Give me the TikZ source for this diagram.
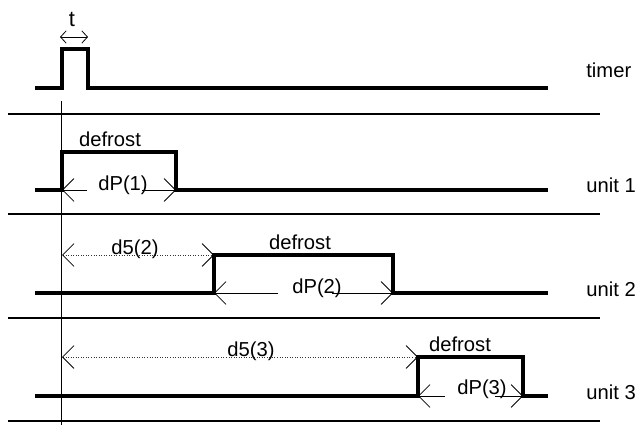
\documentclass[tikz,border=0pt]{standalone}
\usepackage{fontspec}
\setmainfont{Liberation Sans}
\usetikzlibrary{arrows.meta}

\tikzset{
  signal/.style={line width=2.3pt},
  sepline/.style={line width=1.1pt},
  barb/.tip={Straight Barb[length=6.5pt,width=13pt,line width=0.45pt,color=black]},
  smallbarb/.tip={Straight Barb[length=3.2pt,width=7pt,line width=0.45pt]},
  dimboth/.style={line width=0.45pt,smallbarb-smallbarb},
  dimleft/.style={line width=0.45pt,barb-},
  dimright/.style={line width=0.45pt,-barb},
  waitdim/.style={line width=0.45pt,densely dotted,black!80,barb-barb},
  lbl/.style={inner sep=0pt},
}

\begin{document}
\begin{tikzpicture}[x=0.02cm,y=-0.02cm,font=\fontsize{11.5}{13.8}\selectfont]
\useasboundingbox (0,0) rectangle (638,425);

% row separators and row names
\foreach \y in {114,214,318,421}
  \draw[sepline] (8,\y) -- (600,\y);
\foreach \y/\name/\txt in {70/lbltimer/timer,185/lblu1/unit 1,289/lblu2/unit 2,392/lblu3/unit 3}
  \node[lbl,anchor=west] (\name) at (586,\y) {\txt};

% reference line at the timer pulse
\draw[line width=0.5pt] (61,101) -- (61,425);

% timer
\draw[signal] (35,88) -- (62,88) -- (62,49) -- (88,49) -- (88,88) -- (548,88);
\coordinate (tl) at (60,37);
\coordinate (tr) at (88,37);
\draw[dimboth] (tl) -- (tr);
\node[lbl,font=\fontsize{12.5}{15}\selectfont] (tlbl) at (72,19) {t};

% unit 1
\draw[signal] (35,190) -- (62,190) -- (62,152) -- (176,152) -- (176,190) -- (548,190);
\node[lbl] (def1) at (110,139) {defrost};
\coordinate (p1a) at (62,190);
\coordinate (p1b) at (87,190);
\coordinate (p1c) at (142,190);
\coordinate (p1d) at (176,190);
\draw[dimleft] (p1a) -- (p1b);
\draw[dimright] (p1c) -- (p1d);
\node[lbl] (dp1) at (123,185) {dP(1)};

% unit 2
\draw[signal] (35,293) -- (214,293) -- (214,255) -- (393,255) -- (393,293) -- (548,293);
\node[lbl] (def2) at (300,242) {defrost};
\coordinate (w2a) at (62,255);
\coordinate (w2b) at (214,255);
\draw[waitdim] (w2a) -- (w2b);
\node[lbl] (d52) at (135,249) {d5(2)};
\coordinate (p2a) at (214,293);
\coordinate (p2b) at (278,293);
\coordinate (p2c) at (332,293);
\coordinate (p2d) at (393,293);
\draw[dimleft] (p2a) -- (p2b);
\draw[dimright] (p2c) -- (p2d);
\node[lbl] (dp2) at (317,288) {dP(2)};

% unit 3
\draw[signal] (35,396) -- (418,396) -- (418,357) -- (523,357) -- (523,396) -- (548,396);
\node[lbl] (def3) at (460,344) {defrost};
\coordinate (w3a) at (62,357);
\coordinate (w3b) at (418,357);
\draw[waitdim] (w3a) -- (w3b);
\node[lbl] (d53) at (251,351) {d5(3)};
\coordinate (p3a) at (418,396);
\coordinate (p3b) at (445,396);
\coordinate (p3c) at (495,396);
\coordinate (p3d) at (523,396);
\draw[dimleft] (p3a) -- (p3b);
\draw[dimright] (p3c) -- (p3d);
\node[lbl] (dp3) at (482,389) {dP(3)};
\end{tikzpicture}
\end{document}
